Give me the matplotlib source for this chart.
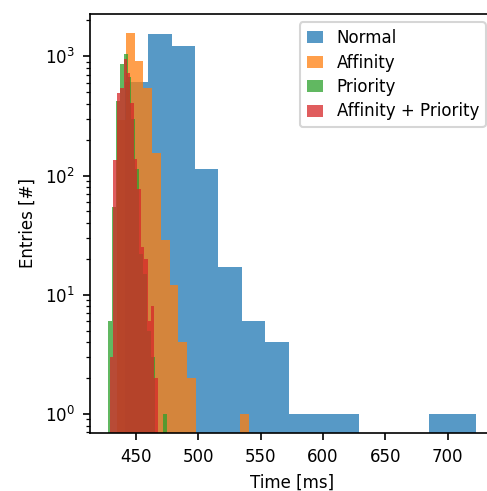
import numpy as np
import matplotlib
matplotlib.use("Agg")
import matplotlib.pyplot as plt

plt.rcParams["font.size"] = 8

labels = ["Normal", "Affinity", "Priority", "Affinity + Priority"]

# bin ranges (ms) and counts per bin
normal_range = (441.3, 722.4)
normal_counts = [608, 1540, 1220, 114, 17, 6, 4, 1, 1, 1, 0, 0, 0, 1, 1]

affinity_range = (434.9, 540.4)
affinity_counts = [290, 1567, 913, 542, 155, 29, 12, 4, 2, 0, 0, 0, 0, 0, 1]

priority_range = (427.6, 474.8)
priority_counts = [6, 54, 421, 861, 1047, 670, 300, 113, 22, 15, 5, 3, 0, 0, 1]

affprio_range = (429.2, 467.6)
affprio_counts = [3, 135, 490, 540, 949, 724, 408, 138, 77, 25, 20, 6, 8, 2]

series = [
    (normal_range, normal_counts),
    (affinity_range, affinity_counts),
    (priority_range, priority_counts),
    (affprio_range, affprio_counts),
]

DPI = 150
W, H = 487, 491
fig = plt.figure(figsize=(W / DPI, H / DPI), dpi=DPI)
left, right, top, bottom = 89.5, 494.0, 14.0, 433.0
ax = fig.add_axes([left / W, 1 - bottom / H, (right - left) / W, (bottom - top) / H])

for (rng, counts), lab in zip(series, labels):
    edges = np.linspace(rng[0], rng[1], len(counts) + 1)
    centers = 0.5 * (edges[:-1] + edges[1:])
    ax.hist(centers, bins=edges, weights=counts, alpha=0.75, label=lab, log=True)

ax.set_xlabel("Time [ms]")
ax.set_ylabel("Entries [#]")
ax.legend(loc="upper right", handlelength=1.0, labelspacing=0.39)

fig.savefig("out.png", dpi=DPI)
